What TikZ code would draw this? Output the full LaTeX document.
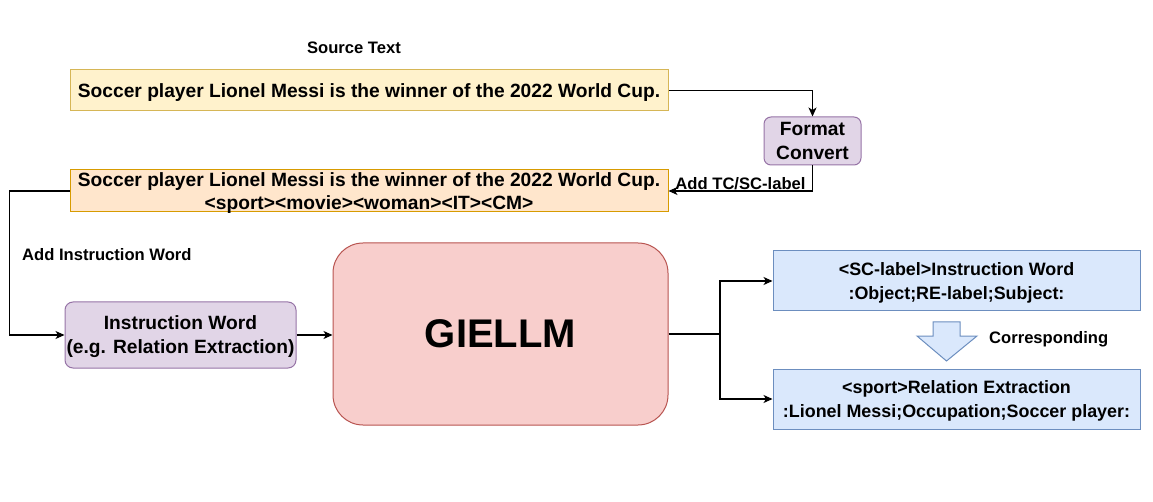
\documentclass[tikz,border=0pt]{standalone}
\usepackage{fontspec}
\setmainfont{Liberation Sans}
\usetikzlibrary{arrows.meta}
\definecolor{srcfill}{HTML}{FFF2CC}
\definecolor{srcdraw}{HTML}{D6B656}
\definecolor{tagfill}{HTML}{FFE6CC}
\definecolor{tagdraw}{HTML}{D79B00}
\definecolor{purpfill}{HTML}{E1D5E7}
\definecolor{purpdraw}{HTML}{9673A6}
\definecolor{llmfill}{HTML}{F8CECC}
\definecolor{llmdraw}{HTML}{B85450}
\definecolor{outfill}{HTML}{DAE8FC}
\definecolor{outdraw}{HTML}{6C8EBF}
\begin{document}
\begin{tikzpicture}[x=1pt,y=-1pt,
    boxtext/.style={font=\fontsize{19.2}{24}\selectfont\bfseries,align=center,
        inner sep=0pt,text depth=0pt},
    srcbox/.style={boxtext,draw=srcdraw,fill=srcfill,line width=1pt,
        minimum width=598pt,minimum height=41pt},
    tagbox/.style={boxtext,draw=tagdraw,fill=tagfill,line width=1pt,
        minimum width=598pt,minimum height=42pt,font=\fontsize{19.2}{23}\selectfont\bfseries},
    purpbox/.style={boxtext,draw=purpdraw,fill=purpfill,line width=1pt,rounded corners=8pt},
    outbox/.style={boxtext,draw=outdraw,fill=outfill,line width=1pt,
        minimum width=367pt,minimum height=60pt,font=\fontsize{17.9}{24.5}\selectfont\bfseries},
    lbl/.style={font=\fontsize{16.6}{20}\selectfont\bfseries,inner sep=1pt},
    arr/.style={line width=1.1pt,-{Stealth[length=9pt,width=8pt,inset=2.5pt]}}]
  \useasboundingbox (0,0) rectangle (1153,502);
  % input side
  \node[lbl] (srclbl) at (354,48) {Source Text};
  \node[srcbox] (src) at (369,90.5)
    {Soccer player Lionel Messi is the winner of the 2022 World Cup.};
  \node[purpbox,minimum width=97pt,minimum height=48pt,rounded corners=7pt] (fmt) at (812.5,141)
    {Format\\Convert};
  \node[tagbox] (tagged) at (369,191)
    {Soccer player Lionel Messi is the winner of the 2022 World Cup.\\
     {<}sport{>}{<}movie{>}{<}woman{>}{<}IT{>}{<}CM{>}};
  \node[lbl,anchor=west] (instrlbl) at (21,255) {Add Instruction Word};
  \node[purpbox,minimum width=231pt,minimum height=66pt] (instr) at (180.5,335)
    {Instruction Word\\(e.g. Relation Extraction)};
  % model
  \node[boxtext,draw=llmdraw,fill=llmfill,line width=1pt,rounded corners=30pt,
        minimum width=335pt,minimum height=182pt,
        font=\fontsize{40}{48}\selectfont\bfseries] (llm) at (500.5,334) {GIELLM};
  % output side
  \node[outbox] (pat) at (956.5,281)
    {{<}SC-label{>}Instruction Word\\:Object;RE-label;Subject:};
  \node[outbox] (res) at (956.5,399)
    {{<}sport{>}Relation Extraction\\:Lionel Messi;Occupation;Soccer player:};
  \draw[draw=outdraw,fill=outfill,line width=1pt]
    (933,322) -- (960,322) -- (960,336) -- (977,336) -- (946.5,361)
    -- (917,336) -- (933,336) -- cycle;
  \node[lbl,anchor=west] (corr) at (988,339) {Corresponding};
  % connectors
  \draw[arr] (src.east) -| (fmt.north);
  \draw[arr] (fmt.south) |- node[lbl,above,pos=0.75]{Add TC/SC-label} (tagged.east);
  \draw[arr] (tagged.west) -- ++(-60,0) |- (instr.west);
  \draw[arr] (instr.east) -- (instr.east -| llm.west);
  \coordinate (split) at (720,334);
  \draw[line width=1.1pt] (llm.east) -- (split);
  \draw[arr] (split) |- (pat.west);
  \draw[arr] (split) |- (res.west);
\end{tikzpicture}
\end{document}
